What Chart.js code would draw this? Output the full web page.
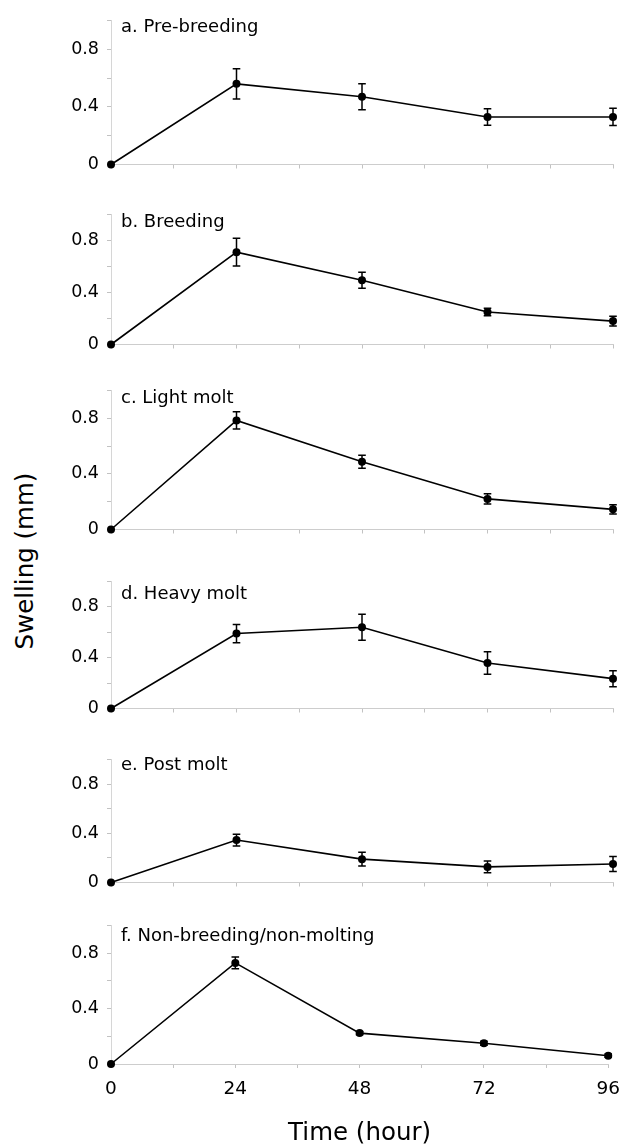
<!DOCTYPE html>
<html><head><meta charset="utf-8">
<script src="https://cdn.jsdelivr.net/npm/chart.js@4.4.1/dist/chart.umd.min.js"></script>
<style>
html,body{margin:0;padding:0;background:#fff;}
#wrap{position:relative;width:630px;height:1148px;overflow:hidden;background:#fff;}
#wrap canvas{position:absolute;left:0;}
#ytitle{position:absolute;left:25px;top:561px;transform:translate(-50%,-50%) rotate(-90deg);font-family:'DejaVu Sans',sans-serif;font-size:24.5px;white-space:nowrap;color:#000;line-height:1;}
</style></head><body>
<div id="wrap"><div id="ytitle">Swelling (mm)</div></div>
<script>
// ---- data ----
const hours = [0, 24, 48, 72, 96];
const panelTitles = ['a. Pre-breeding', 'b. Breeding', 'c. Light molt', 'd. Heavy molt', 'e. Post molt', 'f. Non-breeding/non-molting'];
const meanPreBreeding = [0, 0.56, 0.47, 0.33, 0.33];
const errPreBreeding  = [0, 0.105, 0.09, 0.058, 0.06];
const meanBreeding    = [0, 0.71, 0.494, 0.25, 0.18];
const errBreeding     = [0, 0.107, 0.061, 0.028, 0.037];
const meanLightMolt   = [0, 0.785, 0.488, 0.22, 0.145];
const errLightMolt    = [0, 0.062, 0.047, 0.037, 0.033];
const meanHeavyMolt   = [0, 0.59, 0.64, 0.358, 0.235];
const errHeavyMolt    = [0, 0.072, 0.102, 0.088, 0.063];
const meanPostMolt    = [0, 0.345, 0.19, 0.127, 0.15];
const errPostMolt     = [0, 0.048, 0.056, 0.047, 0.061];
const meanNonBreeding = [0, 0.73, 0.223, 0.15, 0.06];
const errNonBreeding  = [0, 0.043, 0.012, 0.015, 0.012];
const xTickLabels = ['0', '24', '48', '72', '96'];
const yTickValues = [0, 0.4, 0.8];
const yTickLabels = ['0', '0.4', '0.8'];
const xAxisTitle = 'Time (hour)';

const seriesMeans = [meanPreBreeding, meanBreeding, meanLightMolt, meanHeavyMolt, meanPostMolt, meanNonBreeding];
const seriesErrs  = [errPreBreeding, errBreeding, errLightMolt, errHeavyMolt, errPostMolt, errNonBreeding];

// ---- layout (pixel positions of each panel's y=1.0 and y=0 lines, and title baseline) ----
const panelLayout = [
  {top: 14,  bottom: 169,  titleY: 32},
  {top: 208, bottom: 349,  titleY: 227},
  {top: 384, bottom: 534,  titleY: 403},
  {top: 575, bottom: 713,  titleY: 599},
  {top: 753, bottom: 887,  titleY: 770},
  {top: 919, bottom: 1064, titleY: 941}
];
const PLOT_LEFT = 111, PLOT_RIGHT = 613, W = 630, PAD_TOP = 12;
const FONT = "'DejaVu Sans', sans-serif";
const INK = '#000';

function labelFor(v, vals, labs) {
  for (let i = 0; i < vals.length; i++) if (Math.abs(v - vals[i]) < 1e-6) return labs[i];
  return '';
}

const wrap = document.getElementById('wrap');
panelLayout.forEach((L, k) => {
  const isLast = k === panelLayout.length - 1;
  const canvasTop = L.top - PAD_TOP;
  const xAxisH = isLast ? (1148 - L.bottom) : 14;
  const H = (L.bottom - canvasTop) + xAxisH;
  const cv = document.createElement('canvas');
  cv.width = W; cv.height = H;
  cv.style.top = canvasTop + 'px';
  cv.style.width = W + 'px'; cv.style.height = H + 'px';
  wrap.appendChild(cv);

  const means = seriesMeans[k], errs = seriesErrs[k];
  const pts = hours.map((h, i) => ({x: h, y: means[i]}));

  const errorBarPlugin = {
    id: 'errorBars' + k,
    afterDatasetsDraw(chart) {
      const xs = chart.scales.x, ys = chart.scales.y, ctx = chart.ctx;
      ctx.save();
      ctx.strokeStyle = INK; ctx.lineWidth = 1.5;
      pts.forEach((p, i) => {
        const e = errs[i];
        if (!e) return;
        const x = xs.getPixelForValue(p.x);
        const yHi = ys.getPixelForValue(p.y + e);
        const yLo = ys.getPixelForValue(p.y - e);
        ctx.beginPath();
        ctx.moveTo(x, yHi); ctx.lineTo(x, yLo);
        ctx.moveTo(x - 3.8, yHi); ctx.lineTo(x + 3.8, yHi);
        ctx.moveTo(x - 3.8, yLo); ctx.lineTo(x + 3.8, yLo);
        ctx.stroke();
      });
      ctx.restore();
    }
  };
  const panelTitlePlugin = {
    id: 'panelTitle' + k,
    afterDraw(chart) {
      const ctx = chart.ctx;
      ctx.save();
      ctx.font = '18px ' + FONT;
      ctx.fillStyle = INK;
      ctx.textAlign = 'left';
      ctx.textBaseline = 'alphabetic';
      ctx.fillText(panelTitles[k], 121, L.titleY - canvasTop);
      ctx.restore();
    }
  };

  new Chart(cv, {
    type: 'scatter',
    data: {
      datasets: [{
        data: pts,
        showLine: true,
        borderColor: INK,
        borderWidth: 1.6,
        tension: 0,
        pointRadius: 4,
        pointHoverRadius: 4,
        pointBackgroundColor: INK,
        pointBorderColor: INK,
        pointBorderWidth: 0,
        clip: false
      }]
    },
    options: {
      responsive: false,
      animation: false,
      devicePixelRatio: 1,
      events: [],
      layout: {padding: {top: PAD_TOP, right: W - PLOT_RIGHT, bottom: 0, left: 0}},
      plugins: {legend: {display: false}, tooltip: {enabled: false}, title: {display: false}},
      scales: {
        x: {
          type: 'linear', min: 0, max: 96,
          afterFit(s) { s.height = xAxisH; },
          border: {display: true, color: '#cdcdcd', width: 1, dash: [2, 4]},
          grid: {drawOnChartArea: false, drawTicks: true, tickLength: 4, color: '#c2c2c2'},
          ticks: {
            display: isLast, stepSize: 12, autoSkip: false, maxRotation: 0, padding: 10,
            font: {family: FONT, size: 18.5}, color: INK,
            callback: (v) => (v % 24 === 0 ? xTickLabels[v / 24] : '')
          },
          title: {display: isLast, text: xAxisTitle, font: {family: FONT, size: 24.5}, color: INK, padding: {top: 0, bottom: 0}}
        },
        y: {
          type: 'linear', min: 0, max: 1.0,
          afterFit(s) { s.width = PLOT_LEFT; },
          border: {display: true, color: '#d6d6d6', width: 1},
          grid: {drawOnChartArea: false, drawTicks: true, tickLength: 4, color: '#c2c2c2'},
          ticks: {
            stepSize: 0.2, autoSkip: false, padding: 8,
            font: {family: FONT, size: 17.5}, color: INK,
            callback: (v) => labelFor(v, yTickValues, yTickLabels)
          }
        }
      }
    },
    plugins: [errorBarPlugin, panelTitlePlugin]
  });
});
</script>
</body></html>
